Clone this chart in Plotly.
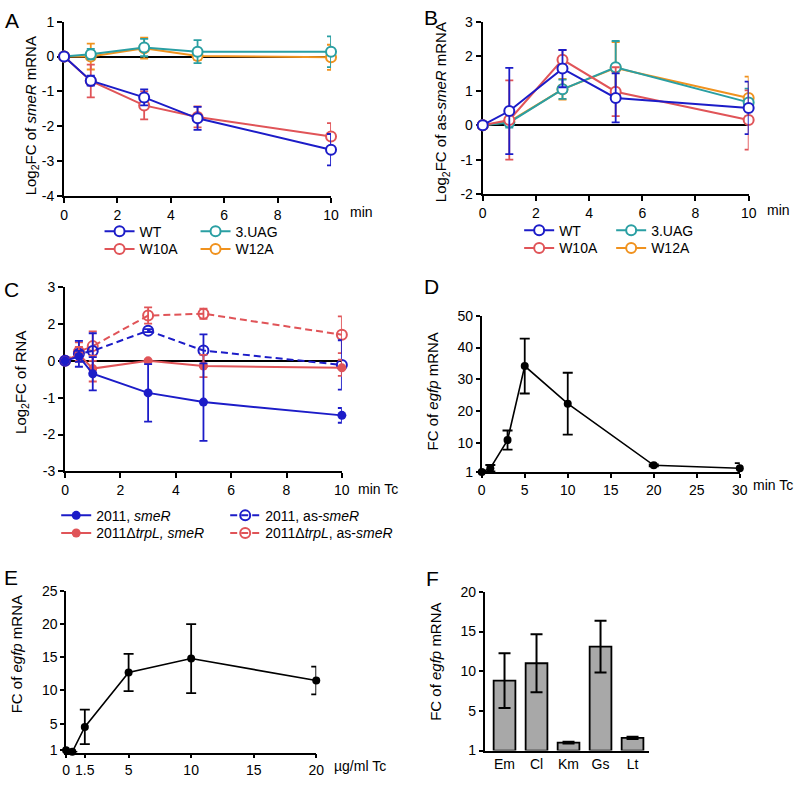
import plotly.graph_objects as go

W, H = 800, 785
FONT = "Liberation Sans, Arial, sans-serif"

# ---------- Panel A: Log2FC of smeR mRNA ----------
a_time = [0, 1, 3, 5, 10]
a_wt = [0, -0.69, -1.17, -1.77, -2.67]
a_wt_err = [0, 0.14, 0.23, 0.33, 0.45]
a_w10a = [0, -0.70, -1.40, -1.73, -2.29]
a_w10a_err = [0, 0.47, 0.40, 0.30, 0.38]
a_uag = [0, 0.07, 0.26, 0.14, 0.14]
a_uag_err = [0, 0.15, 0.25, 0.33, 0.44]
a_w12a = [0, 0.0, 0.24, 0.02, -0.02]
a_w12a_err = [0, 0.37, 0.30, 0.12, 0.36]
a_ytickvals = [-4, -3, -2, -1, 0, 1]
a_yticktext = ["-4", "-3", "-2", "-1", "0", "1"]

# ---------- Panel B: Log2FC of as-smeR mRNA ----------
b_time = [0, 1, 3, 5, 10]
b_wt = [0, 0.41, 1.64, 0.79, 0.50]
b_wt_err = [0, 1.25, 0.54, 0.71, 0.76]
b_w10a = [0, 0.15, 1.90, 0.97, 0.15]
b_w10a_err = [0, 1.15, 0.28, 0.71, 0.86]
b_uag = [0, 0.08, 1.04, 1.68, 0.66]
b_uag_err = [0, 0.15, 0.28, 0.76, 0.40]
b_w12a = [0, 0.10, 1.04, 1.66, 0.79]
b_w12a_err = [0, 0.10, 0.30, 0.75, 0.62]
b_ytickvals = [-2, -1, 0, 1, 2, 3]
b_yticktext = ["-2", "-1", "0", "1", "2", "3"]

time_ticks = [0, 2, 4, 6, 8, 10]

# ---------- Panel C: Log2FC of RNA (axis positions as drawn) ----------
c_time = [0, 0.5, 1, 3, 5, 10]
c_wt_smer = [0, 0.12, -0.35, -0.87, -1.12, -1.48]
c_wt_smer_err = [0, 0.15, 0.45, 0.78, 1.05, 0.20]
c_trp_smer = [0, 0.18, -0.21, 0.0, -0.14, -0.19]
c_trp_smer_err = [0, 0.20, 0.35, 0.03, 0.30, 0.22]
c_wt_as = [0, 0.19, 0.27, 0.82, 0.28, -0.11]
c_wt_as_err = [0, 0.35, 0.48, 0.04, 0.44, 0.67]
c_trp_as = [0, 0.25, 0.40, 1.23, 1.28, 0.71]
c_trp_as_err = [0, 0.25, 0.40, 0.22, 0.14, 0.50]
c_ytickvals = [2, 1, 0, -1, -2, -3]
c_yticktext = ["3", "2", "0", "-1", "-2", "-3"]

# ---------- Panel D: FC of egfp mRNA vs time ----------
d_time = [0, 1, 3, 5, 10, 20, 30]
d_fc = [1.0, 2.2, 11.0, 34.2, 22.4, 3.1, 2.2]
d_err = [0, 1.0, 3.0, 8.6, 9.7, 0.3, 1.6]
d_xtickvals = [0, 5, 10, 15, 20, 25, 30]
d_ytickvals = [1, 10, 20, 30, 40, 50]

# ---------- Panel E: FC of egfp mRNA vs Tc concentration ----------
e_conc = [0, 0.5, 1.5, 5, 10, 20]
e_fc = [1.0, 0.75, 4.5, 12.7, 14.8, 11.5]
e_err = [0, 0, 2.6, 2.8, 5.2, 2.1]
e_xtickvals = [0, 1.5, 5, 10, 15, 20]
e_xticktext = ["0", "1.5", "5", "10", "15", "20"]
e_ytickvals = [1, 5, 10, 15, 20, 25]

# ---------- Panel F: FC of egfp mRNA, antibiotics ----------
f_cat = ["Em", "Cl", "Km", "Gs", "Lt"]
f_fc = [8.8, 11.0, 1.0, 13.1, 1.6]
f_err = [3.45, 3.65, 0.1, 3.27, 0.15]
f_ytickvals = [0, 5, 10, 15, 20]
f_yticktext = ["1", "5", "10", "15", "20"]

BLUE = "#1c1cc8"
RED = "#e05458"
TEAL = "#2a9fa3"
ORANGE = "#f0921e"
GRAY = "#a8a8a8"


def dx(l, r):
    return [l / W, r / W]


def dy(t, b):
    return [1 - b / H, 1 - t / H]


fig = go.Figure()


def line_trace(x, y, err, color, name, xa, ya, legend, rank, marker, dash="solid",
               width=2, showlegend=True, ecap=4):
    fig.add_trace(go.Scatter(
        x=x, y=y, name=name, mode="lines+markers",
        line=dict(color=color, width=width, dash=dash),
        marker=marker,
        error_y=dict(type="data", array=err, color=color, thickness=1.8, width=ecap),
        xaxis=xa, yaxis=ya, legend=legend, legendrank=rank,
        showlegend=showlegend, cliponaxis=False,
    ))


def open_white(color, size=10):
    return dict(symbol="circle", size=size, color="white", line=dict(color=color, width=2))


# Panel A (draw WT on top)
line_trace(a_time, a_w12a, a_w12a_err, ORANGE, "W12A", "x", "y", "legend2", 2, open_white(ORANGE))
line_trace(a_time, a_uag, a_uag_err, TEAL, "3.UAG", "x", "y", "legend", 2, open_white(TEAL))
line_trace(a_time, a_w10a, a_w10a_err, RED, "W10A", "x", "y", "legend2", 1, open_white(RED))
line_trace(a_time, a_wt, a_wt_err, BLUE, "WT", "x", "y", "legend", 1, open_white(BLUE))

# Panel B
line_trace(b_time, b_w12a, b_w12a_err, ORANGE, "W12A", "x2", "y2", "legend4", 2, open_white(ORANGE))
line_trace(b_time, b_uag, b_uag_err, TEAL, "3.UAG", "x2", "y2", "legend3", 2, open_white(TEAL))
line_trace(b_time, b_w10a, b_w10a_err, RED, "W10A", "x2", "y2", "legend4", 1, open_white(RED))
line_trace(b_time, b_wt, b_wt_err, BLUE, "WT", "x2", "y2", "legend3", 1, open_white(BLUE))

# Panel C
DASH = "7px,4px"
line_trace(c_time, c_trp_as, c_trp_as_err, RED, "2011Δ<i>trpL</i>, as-<i>smeR</i>", "x3", "y3",
           "legend6", 2, dict(symbol="circle-open", size=10, color=RED, line=dict(width=2)), dash=DASH)
line_trace(c_time, c_wt_as, c_wt_as_err, BLUE, "2011, as-<i>smeR</i>", "x3", "y3",
           "legend5", 2, dict(symbol="circle-open", size=10, color=BLUE, line=dict(width=2)), dash=DASH)
line_trace(c_time, c_trp_smer, c_trp_smer_err, RED, "2011Δ<i>trpL, smeR</i>", "x3", "y3",
           "legend6", 1, dict(symbol="circle", size=9, color=RED))
line_trace(c_time, c_wt_smer, c_wt_smer_err, BLUE, "2011, <i>smeR</i>", "x3", "y3",
           "legend5", 1, dict(symbol="circle", size=9, color=BLUE))

# Panel D
line_trace(d_time, d_fc, d_err, "black", "D", "x4", "y4", "legend", 9,
           dict(symbol="circle", size=8, color="black"), width=1.6, showlegend=False, ecap=5)

# Panel E
line_trace(e_conc, e_fc, e_err, "black", "E", "x5", "y5", "legend", 9,
           dict(symbol="circle", size=8, color="black"), width=1.6, showlegend=False, ecap=5)

# Panel F
fig.add_trace(go.Bar(
    x=f_cat, y=f_fc, width=0.68,
    marker=dict(color=GRAY, line=dict(color="black", width=1.8)),
    error_y=dict(type="data", array=f_err, color="black", thickness=2, width=6),
    xaxis="x6", yaxis="y6", showlegend=False,
))

tickfont = dict(size=14, color="black", family=FONT)


def axis(domain, anchor, rng, lw=2, ticklen=5, **kw):
    d = dict(domain=domain, anchor=anchor, range=rng, showline=True, linecolor="black",
             linewidth=lw, ticks="outside", ticklen=ticklen, tickwidth=lw, tickcolor="black",
             showgrid=False, zeroline=False, tickfont=tickfont, layer="below traces",
             fixedrange=True)
    d.update(kw)
    return d


lay = dict(
    width=W, height=H, margin=dict(l=0, r=0, t=0, b=0),
    paper_bgcolor="white", plot_bgcolor="white",
    font=dict(family=FONT, color="black", size=14),
    xaxis=axis(dx(61, 332), "y", [0, 10], tickvals=time_ticks),
    yaxis=axis(dy(14, 192), "x", [-4, 1], tickvals=a_ytickvals, ticktext=a_yticktext,
               zeroline=True, zerolinecolor="black", zerolinewidth=2),
    xaxis2=axis(dx(486, 756), "y2", [0, 10], tickvals=time_ticks),
    yaxis2=axis(dy(14, 190), "x2", [-2, 3], tickvals=b_ytickvals, ticktext=b_yticktext,
                zeroline=True, zerolinecolor="black", zerolinewidth=2),
    xaxis3=axis(dx(62, 343), "y3", [0, 10], tickvals=time_ticks),
    yaxis3=axis(dy(285, 473), "x3", [-3, 2], tickvals=c_ytickvals, ticktext=c_yticktext,
                zeroline=True, zerolinecolor="black", zerolinewidth=2),
    xaxis4=axis(dx(485, 747), "y4", [0, 30], lw=1.6, ticklen=4, tickvals=d_xtickvals),
    yaxis4=axis(dy(314, 474), "x4", [0.9, 50], lw=1.6, ticklen=4, tickvals=d_ytickvals),
    xaxis5=axis(dx(63, 317), "y5", [0, 20], lw=1.6, ticklen=4, tickvals=e_xtickvals,
                ticktext=e_xticktext),
    yaxis5=axis(dy(595, 760), "x5", [0.65, 25], lw=1.6, ticklen=4, tickvals=e_ytickvals),
    xaxis6=axis(dx(488, 655), "y6", [-0.62, 4.52], lw=1.6, ticks="", type="category"),
    yaxis6=axis(dy(596, 758), "x6", [0, 20], lw=1.6, ticklen=4, tickvals=f_ytickvals,
                ticktext=f_yticktext),
    bargap=0.32,
)


def leg(x_px, top_px, ew):
    return dict(x=x_px / W, y=1 - top_px / H, xanchor="left", yanchor="top", orientation="h",
                entrywidth=ew, entrywidthmode="pixels",
                font=dict(size=14, family=FONT, color="black"),
                bgcolor="rgba(0,0,0,0)", borderwidth=0, itemwidth=30, traceorder="normal")


lay["legend"] = leg(97, 212, 51)
lay["legend2"] = leg(97, 230, 51)
lay["legend3"] = leg(523, 211, 47)
lay["legend4"] = leg(523, 229, 47)
lay["legend5"] = leg(53, 502, 124)
lay["legend6"] = leg(53, 520, 124)

fig.update_layout(**lay)

ann = []


def text(x, y, s, size=14, xanchor="center", yanchor="middle", angle=0):
    ann.append(dict(x=x / W, y=1 - y / H, xref="paper", yref="paper", text=s, showarrow=False,
                    xanchor=xanchor, yanchor=yanchor, textangle=angle,
                    font=dict(size=size, family=FONT, color="black")))


# panel letters
for s, x, y in [("A", 8, 13), ("B", 434, 10), ("C", 8, 287), ("D", 434, 284), ("E", 7, 581), ("F", 435, 582)]:
    text(x, y, s, size=21)

# y-axis titles
text(28, 110, "Log<sub>2</sub>FC of <i>smeR</i> mRNA", size=15, angle=-90)
text(445, 106, "Log<sub>2</sub>FC of as-<i>smeR</i> mRNA", size=15, angle=-90)
text(17, 382, "Log<sub>2</sub>FC of RNA", size=15, angle=-90)
text(435, 391, "FC of <i>egfp</i> mRNA", size=15, angle=-90)
text(13, 660, "FC of <i>egfp</i> mRNA", size=15, angle=-90)
text(438, 667, "FC of <i>egfp</i> mRNA", size=15, angle=-90)

# x unit labels
text(349, 208, "min", xanchor="left")
text(773, 206, "min", xanchor="left")
text(357, 491, "min Tc", xanchor="left")
text(758, 487, "min Tc", xanchor="left")
text(333, 774, "µg/ml Tc", xanchor="left")

fig.update_layout(annotations=ann)
fig.write_html("out.html", config={"displayModeBar": False},
               post_script="document.body.style.margin='0';document.body.style.overflow='hidden';")
